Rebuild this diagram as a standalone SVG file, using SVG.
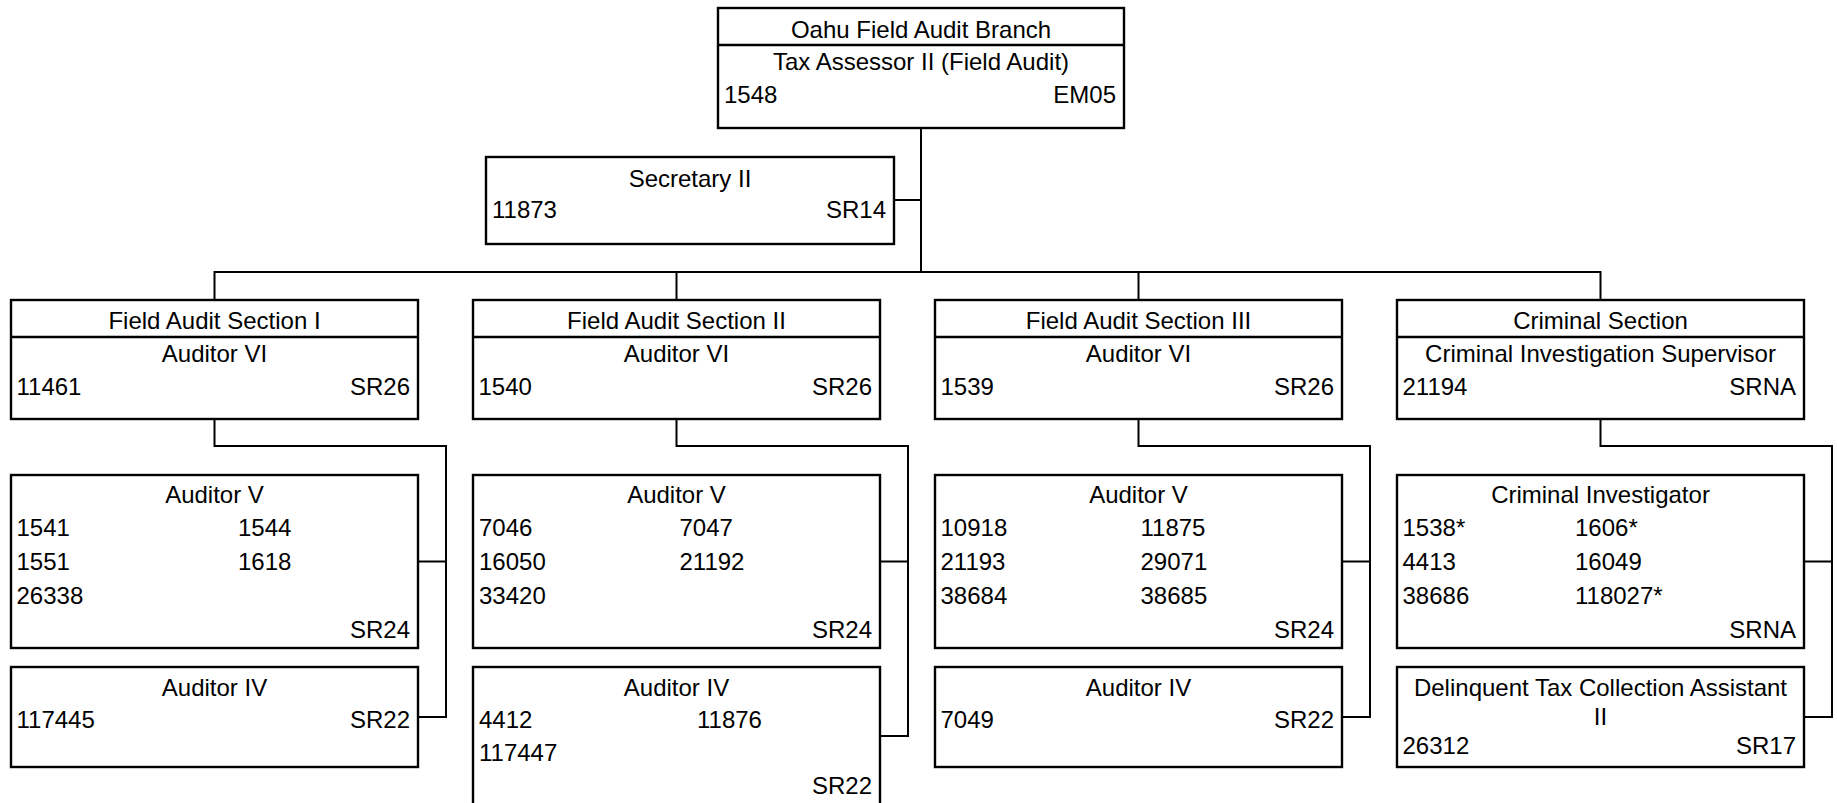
<svg xmlns="http://www.w3.org/2000/svg" width="1837" height="803" viewBox="0 0 1837 803">
  <style>
    .box { fill: #ffffff; stroke: #000000; stroke-width: 2.4; }
    .div { stroke: #000000; stroke-width: 2.4; }
    .wire { fill: none; stroke: #000000; stroke-width: 2; }
    text { font-family: "Liberation Sans", Arial, sans-serif; font-size: 24px; fill: #000000; }
    .c { text-anchor: middle; }
    .r { text-anchor: end; }
  </style>
  <rect width="1837" height="803" fill="#ffffff"/>

  <!-- connectors -->
  <g id="connectors">
    <path class="wire" d="M921 128 V272"/>
    <path class="wire" d="M894 200 H921"/>
    <path class="wire" d="M214.5 300 V272 H1600.5 V300"/>
    <path class="wire" d="M676.5 272 V300"/>
    <path class="wire" d="M1138.5 272 V300"/>
    <!-- Field Audit Section I -->
    <path class="wire" d="M214.5 419 V446 H446 V717 H418"/>
    <path class="wire" d="M418 561.5 H446"/>
    <!-- Field Audit Section II -->
    <path class="wire" d="M676.5 419 V446 H908 V736 H880"/>
    <path class="wire" d="M880 561.5 H908"/>
    <!-- Field Audit Section III -->
    <path class="wire" d="M1138.5 419 V446 H1370 V717 H1342"/>
    <path class="wire" d="M1342 561.5 H1370"/>
    <!-- Criminal Section -->
    <path class="wire" d="M1600.5 419 V446 H1832 V717 H1804"/>
    <path class="wire" d="M1804 561.5 H1832"/>
  </g>

  <!-- branch head -->
  <g id="branch">
    <rect class="box" x="718" y="8" width="406" height="120"/>
    <line class="div" x1="718" y1="45" x2="1124" y2="45"/>
    <text class="c" x="921" y="38">Oahu Field Audit Branch</text>
    <text class="c" x="921" y="70">Tax Assessor II (Field Audit)</text>
    <text x="724" y="103">1548</text>
    <text class="r" x="1116" y="103">EM05</text>
  </g>

  <g id="secretary">
    <rect class="box" x="486" y="157" width="408" height="87"/>
    <text class="c" x="690" y="187">Secretary II</text>
    <text x="492" y="218">11873</text>
    <text class="r" x="886" y="218">SR14</text>
  </g>

  <!-- sections -->
  <g id="section-1">
    <rect class="box" x="11" y="300" width="407" height="119"/>
    <line class="div" x1="11" y1="337" x2="418" y2="337"/>
    <text class="c" x="214.5" y="329">Field Audit Section I</text>
    <text class="c" x="214.5" y="362">Auditor VI</text>
    <text x="16.5" y="395">11461</text>
    <text class="r" x="410" y="395">SR26</text>
  </g>
  <g id="section-2">
    <rect class="box" x="473" y="300" width="407" height="119"/>
    <line class="div" x1="473" y1="337" x2="880" y2="337"/>
    <text class="c" x="676.5" y="329">Field Audit Section II</text>
    <text class="c" x="676.5" y="362">Auditor VI</text>
    <text x="478.5" y="395">1540</text>
    <text class="r" x="872" y="395">SR26</text>
  </g>
  <g id="section-3">
    <rect class="box" x="935" y="300" width="407" height="119"/>
    <line class="div" x1="935" y1="337" x2="1342" y2="337"/>
    <text class="c" x="1138.5" y="329">Field Audit Section III</text>
    <text class="c" x="1138.5" y="362">Auditor VI</text>
    <text x="940.5" y="395">1539</text>
    <text class="r" x="1334" y="395">SR26</text>
  </g>
  <g id="section-criminal">
    <rect class="box" x="1397" y="300" width="407" height="119"/>
    <line class="div" x1="1397" y1="337" x2="1804" y2="337"/>
    <text class="c" x="1600.5" y="329">Criminal Section</text>
    <text class="c" x="1600.5" y="362">Criminal Investigation Supervisor</text>
    <text x="1402.5" y="395">21194</text>
    <text class="r" x="1796" y="395">SRNA</text>
  </g>

  <!-- positions, section I -->
  <g id="s1-auditor-v">
    <rect class="box" x="11" y="475" width="407" height="173"/>
    <text class="c" x="214.5" y="503">Auditor V</text>
    <text x="16.5" y="536">1541</text>
    <text x="238" y="536">1544</text>
    <text x="16.5" y="570">1551</text>
    <text x="238" y="570">1618</text>
    <text x="16.5" y="604">26338</text>
    <text class="r" x="410" y="638">SR24</text>
  </g>
  <g id="s1-auditor-iv">
    <rect class="box" x="11" y="667" width="407" height="100"/>
    <text class="c" x="214.5" y="696">Auditor IV</text>
    <text x="16.5" y="728">117445</text>
    <text class="r" x="410" y="728">SR22</text>
  </g>

  <!-- positions, section II -->
  <g id="s2-auditor-v">
    <rect class="box" x="473" y="475" width="407" height="173"/>
    <text class="c" x="676.5" y="503">Auditor V</text>
    <text x="479" y="536">7046</text>
    <text x="679.5" y="536">7047</text>
    <text x="479" y="570">16050</text>
    <text x="679.5" y="570">21192</text>
    <text x="479" y="604">33420</text>
    <text class="r" x="872" y="638">SR24</text>
  </g>
  <g id="s2-auditor-iv">
    <rect class="box" x="473" y="667" width="407" height="138"/>
    <text class="c" x="676.5" y="696">Auditor IV</text>
    <text x="479" y="728">4412</text>
    <text x="697" y="728">11876</text>
    <text x="479" y="761">117447</text>
    <text class="r" x="872" y="794">SR22</text>
  </g>

  <!-- positions, section III -->
  <g id="s3-auditor-v">
    <rect class="box" x="935" y="475" width="407" height="173"/>
    <text class="c" x="1138.5" y="503">Auditor V</text>
    <text x="940.5" y="536">10918</text>
    <text x="1140.5" y="536">11875</text>
    <text x="940.5" y="570">21193</text>
    <text x="1140.5" y="570">29071</text>
    <text x="940.5" y="604">38684</text>
    <text x="1140.5" y="604">38685</text>
    <text class="r" x="1334" y="638">SR24</text>
  </g>
  <g id="s3-auditor-iv">
    <rect class="box" x="935" y="667" width="407" height="100"/>
    <text class="c" x="1138.5" y="696">Auditor IV</text>
    <text x="940.5" y="728">7049</text>
    <text class="r" x="1334" y="728">SR22</text>
  </g>

  <!-- positions, criminal section -->
  <g id="criminal-investigator">
    <rect class="box" x="1397" y="475" width="407" height="173"/>
    <text class="c" x="1600.5" y="503">Criminal Investigator</text>
    <text x="1402.5" y="536">1538*</text>
    <text x="1575" y="536">1606*</text>
    <text x="1402.5" y="570">4413</text>
    <text x="1575" y="570">16049</text>
    <text x="1402.5" y="604">38686</text>
    <text x="1575" y="604">118027*</text>
    <text class="r" x="1796" y="638">SRNA</text>
  </g>
  <g id="delinquent-tax-assistant">
    <rect class="box" x="1397" y="667" width="407" height="100"/>
    <text class="c" x="1600.5" y="696">Delinquent Tax Collection Assistant</text>
    <text class="c" x="1600.5" y="725">II</text>
    <text x="1402.5" y="754">26312</text>
    <text class="r" x="1796" y="754">SR17</text>
  </g>
</svg>
